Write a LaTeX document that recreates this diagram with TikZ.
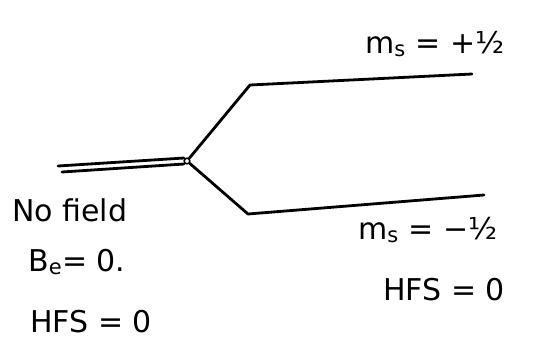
\documentclass[tikz,border=0pt]{standalone}
\usepackage{fontspec}
\setmainfont{DejaVu Sans}
\begin{document}
\begin{tikzpicture}[x=1pt,y=-1pt,
  lvl/.style={line width=2.8pt,line cap=round,line join=round},
  lbl/.style={font=\fontsize{30}{34}\selectfont,anchor=west,inner sep=0pt}]
\useasboundingbox (0,0) rectangle (548,349);
\coordinate (a1) at (58,166);
\coordinate (b1) at (184,158);
\coordinate (a2) at (62,172);
\coordinate (b2) at (184,164);
\node[circle,draw,line width=1.5pt,inner sep=2pt] (j) at (187,161) {};
\coordinate (u1) at (250,85);
\coordinate (u2) at (472,74);
\coordinate (l1) at (248,214);
\coordinate (l2) at (484,195);
\draw[lvl] (a1) -- (b1);
\draw[lvl] (a2) -- (b2);
\draw[lvl] (j) -- (u1) -- (u2);
\draw[lvl] (j) -- (l1) -- (l2);
\node[lbl] (tp) at (365,44) {m\textsubscript{s} = +½};
\node[lbl] (tm) at (358,230) {m\textsubscript{s} = −½};
\node[lbl] (th) at (383,290) {HFS = 0};
\node[lbl] (nf) at (12,210) {No field};
\node[lbl] (be) at (28,262) {B\textsubscript{e}= 0.};
\node[lbl] (hf) at (30,322) {HFS = 0};
\end{tikzpicture}
\end{document}
